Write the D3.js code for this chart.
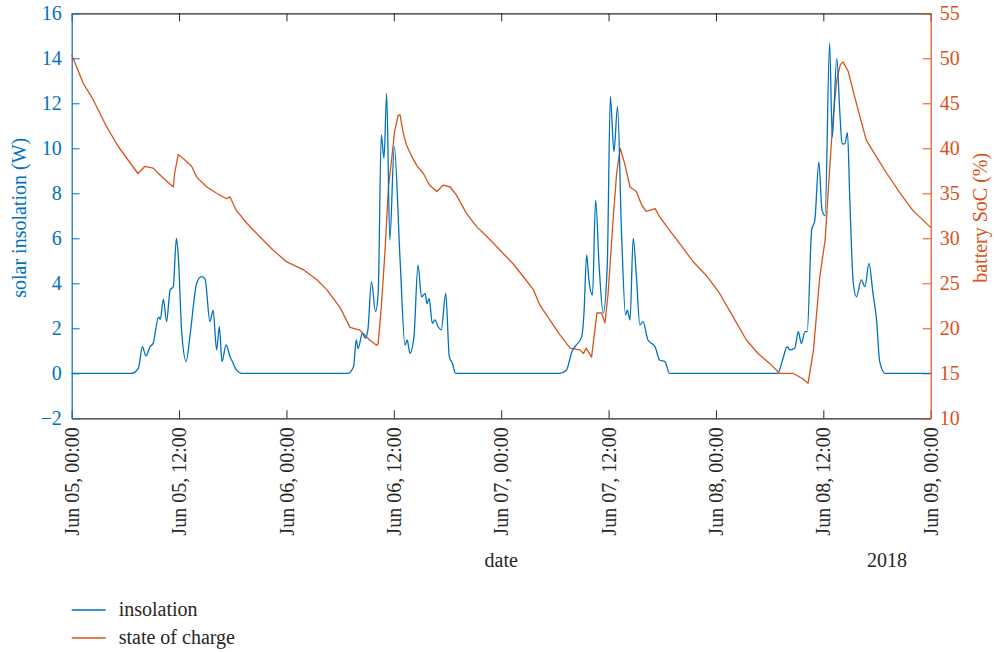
<!DOCTYPE html>
<html>
<head>
<meta charset="utf-8">
<script src="https://cdn.jsdelivr.net/npm/d3@7"></script>
<style>
    body { margin: 0; background: #fff; }
    svg { display: block; }
</style>
</head>
<body>
<svg id="chart" width="994" height="652"></svg>
<script>
// hours after Jun 05 2018, 00:00
const insolHours = [0, 6.7, 7.45, 7.9, 8.3, 8.75, 9.1, 9.7, 9.9, 10.25, 10.6, 11.0, 11.35, 11.7, 11.9, 12.3, 12.8, 13.2, 13.97, 14.5, 14.9, 15.45, 15.8, 16.2, 16.5, 16.8, 17.25, 17.7, 18.05, 18.4, 19.0,
    30.9, 31.5, 31.8, 32.0, 32.5, 32.8, 33.1, 33.5, 33.95, 34.25, 34.6, 34.9, 35.2, 35.55, 36.05, 36.7, 37.25, 37.5, 37.8, 38.25, 38.7, 39.1, 39.5, 39.7, 39.95, 40.3, 40.6, 40.95, 41.3, 41.8, 42.2, 42.55, 42.9,
    54.55, 55.3, 55.9, 56.4, 57.0, 57.25, 57.55, 57.8, 58.2, 58.55, 58.95, 59.4, 59.85, 60.2, 60.6, 61.0, 61.45, 61.9, 62.1, 62.4, 62.75, 63.1, 63.5, 63.85, 64.4, 65.2, 65.7, 66.3, 66.8,
    78.9, 79.5, 79.95, 80.3, 80.8, 81.2, 81.55, 81.95, 82.2, 82.7, 83.05, 83.5, 83.85, 84.2, 84.7, 85.0, 85.5, 85.85, 86.1, 86.4, 86.7, 86.95, 87.35, 87.7, 88.25, 88.65, 89.1, 89.55, 89.95, 90.3, 90.9, 96];
const insolation = [0, 0, 0.22, 1.18, 0.77, 1.18, 1.33, 2.5, 2.4, 3.3, 2.3, 3.7, 3.85, 6.0, 5.3, 1.8, 0.52, 1.6, 4.0, 4.3, 4.2, 2.3, 2.8, 1.04, 2.07, 0.52, 1.26, 0.74, 0.44, 0.15, 0,
    0, 0.3, 1.48, 1.1, 1.78, 1.56, 1.93, 4.07, 2.74, 3.55, 10.6, 9.55, 12.44, 5.92, 10.07, 5.04, 1.26, 1.48, 0.89, 1.63, 4.81, 3.4, 3.55, 3.1, 3.33, 2.22, 2.37, 2.07, 1.93, 3.55, 0.74, 0.44, 0,
    0, 0.15, 0.96, 1.26, 1.63, 2.67, 5.26, 4.15, 3.48, 7.7, 4.74, 2.67, 4.74, 12.3, 9.85, 11.85, 6.22, 2.59, 2.81, 2.37, 6.0, 4.37, 2.15, 2.3, 1.48, 1.18, 0.59, 0.52, 0,
    0, 0.67, 1.18, 1.04, 1.11, 1.85, 1.33, 1.85, 1.85, 6.37, 6.8, 9.4, 7.26, 7.0, 14.67, 10.5, 14.0, 11.55, 10.2, 10.2, 10.7, 7.85, 4.0, 3.4, 4.15, 3.85, 4.89, 3.55, 2.37, 0.52, 0, 0];

const socHours = [0, 1.3, 2.4, 3.9, 5.2, 6.3, 7.4, 8.2, 9.1, 9.9, 11.35, 11.5, 11.9, 12.65, 13.4, 13.97, 15.1, 16.2, 17.3, 17.7, 18.4, 19.55, 21.0, 22.5, 24.0, 25.9, 27.4, 28.5, 30.0, 31.1, 32.2, 33.3, 34.1, 34.25,
    34.6, 35.0, 35.4, 35.75, 36.1, 36.5, 36.7, 37.05, 37.4, 38.0, 38.55, 39.3, 40.0, 40.8, 41.5, 42.3, 43.0, 44.1, 45.25, 46.4, 47.85, 49.3, 50.5, 51.6, 52.3, 54.55, 55.7, 56.8, 57.2, 57.5, 58.1,
    58.7, 59.2, 59.6, 59.95, 60.5, 60.9, 61.3, 61.8, 62.4, 63.1, 63.7, 64.2, 65.2, 65.7, 66.8, 67.95, 69.45, 70.9, 72.4, 73.9, 75.4, 76.7, 78.0, 79.1, 80.6, 81.7, 82.3,
    82.9, 83.6, 84.2, 84.7, 85.1, 85.5, 85.9, 86.2, 86.8, 87.3, 88.1, 88.8, 89.9, 91.1, 92.6, 94.0, 95.9, 96];
const soc = [50.4, 47.2, 45.4, 42.4, 40.2, 38.7, 37.2, 38.0, 37.8, 37.0, 35.7, 37.2, 39.3, 38.7, 38.0, 36.8, 35.7, 35.0, 34.4, 34.6, 33.1, 31.7, 30.2, 28.7, 27.4, 26.5, 25.4, 24.3, 22.3, 20.1, 19.8, 18.7, 18.1, 18.3,
    22.4, 28.3, 35.7, 38.7, 42.0, 43.7, 43.7, 41.7, 40.4, 39.1, 38.1, 37.2, 35.9, 35.2, 35.9, 35.7, 34.8, 32.8, 31.3, 30.2, 28.7, 27.2, 25.7, 24.3, 22.6, 19.3, 17.8, 17.6, 17.2, 17.8, 16.8,
    21.7, 21.7, 20.6, 23.9, 32.0, 37.2, 40.0, 38.3, 35.7, 35.2, 33.7, 33.0, 33.3, 32.4, 30.9, 29.4, 27.4, 25.9, 23.9, 21.3, 18.7, 17.2, 16.1, 15.0, 15.0, 14.4, 13.9,
    17.6, 25.7, 29.8, 37.6, 43.5, 47.6, 49.3, 49.6, 48.5, 46.5, 43.5, 40.9, 39.1, 37.2, 35.0, 33.1, 31.3, 31.2];

const leftTicks = [-2, 0, 2, 4, 6, 8, 10, 12, 14, 16];
const rightTicks = [10, 15, 20, 25, 30, 35, 40, 45, 50, 55];
const seriesNames = ["insolation", "state of charge"];

const startDate = new Date(2018, 5, 5, 0, 0);
const endDate = new Date(2018, 5, 9, 0, 0);
const blue = "#0072BD";
const orange = "#D95319";
const ink = "#262626";
const serifFont = "'Liberation Serif', 'Times New Roman', 'DejaVu Serif', serif";

function toDate(h) {
    return new Date(startDate.getTime() + h * 3600 * 1000);
}

function drawChart() {
    const svg = d3.select("#chart").attr("font-family", serifFont);
    const margin = {top: 13.3, right: 63.3, bottom: 233.7, left: 71.7};
    const width = +svg.attr("width") - margin.left - margin.right;
    const height = +svg.attr("height") - margin.top - margin.bottom;
    const g = svg.append("g").attr("transform", "translate(" + margin.left + "," + margin.top + ")");

    const x = d3.scaleTime().domain([startDate, endDate]).range([0, width]);
    const yL = d3.scaleLinear().domain([-2, 16]).range([height, 0]);
    const yR = d3.scaleLinear().domain([10, 55]).range([height, 0]);

    const xTicks = d3.timeHour.every(12).range(startDate, new Date(endDate.getTime() + 1));

    // top box edge
    g.append("g")
        .call(d3.axisTop(x).tickValues(xTicks).tickSize(-8).tickSizeOuter(0).tickFormat(""))
        .call(a => a.selectAll("path, line").attr("stroke", ink));

    // bottom axis with rotated labels
    const xAxis = g.append("g")
        .attr("transform", "translate(0," + height + ")")
        .call(d3.axisBottom(x).tickValues(xTicks).tickSize(-8).tickSizeOuter(0).tickFormat(d3.timeFormat("%b %d, %H:%M")));
    xAxis.selectAll("path, line").attr("stroke", ink);
    xAxis.selectAll("text")
        .attr("fill", ink)
        .attr("transform", "rotate(-90)")
        .attr("text-anchor", "end")
        .attr("x", -9)
        .attr("y", 0)
        .attr("dy", "0.33em");

    const yAxisL = g.append("g")
        .call(d3.axisLeft(yL).tickValues(leftTicks).tickSize(-8).tickSizeOuter(0).tickPadding(10));
    yAxisL.selectAll("path, line").attr("stroke", blue);
    yAxisL.selectAll("text").attr("fill", blue);

    const yAxisR = g.append("g")
        .attr("transform", "translate(" + width + ",0)")
        .call(d3.axisRight(yR).tickValues(rightTicks).tickSize(-8).tickSizeOuter(0).tickPadding(9));
    yAxisR.selectAll("path, line").attr("stroke", orange);
    yAxisR.selectAll("text").attr("fill", orange);

    g.selectAll(".tick text").attr("font-size", 20);
    g.selectAll(":scope > g").attr("font-family", serifFont).attr("font-size", 20);
    g.selectAll(".domain").attr("stroke-width", 1.2);

    const insolData = insolHours.map((h, i) => ({date: toDate(h), value: insolation[i]}));
    const socData = socHours.map((h, i) => ({date: toDate(h), value: soc[i]}));

    const insolLine = d3.line()
        .x(d => x(d.date))
        .y(d => yL(d.value))
        .curve(d3.curveMonotoneX);
    const socLine = d3.line()
        .x(d => x(d.date))
        .y(d => yR(d.value));

    g.append("path")
        .datum(socData)
        .attr("fill", "none")
        .attr("stroke", orange)
        .attr("stroke-width", 1.3)
        .attr("stroke-linejoin", "round")
        .attr("d", socLine);

    g.append("path")
        .datum(insolData)
        .attr("fill", "none")
        .attr("stroke", blue)
        .attr("stroke-width", 1.3)
        .attr("stroke-linejoin", "round")
        .attr("d", insolLine);

    // axis titles
    svg.append("text")
        .attr("transform", "translate(26," + (margin.top + height / 2 + 2) + ") rotate(-90)")
        .attr("text-anchor", "middle")
        .attr("fill", blue)
        .attr("font-size", 20)
        .text("solar insolation (W)");
    svg.append("text")
        .attr("transform", "translate(987," + (margin.top + height / 2 + 2) + ") rotate(-90)")
        .attr("text-anchor", "middle")
        .attr("fill", orange)
        .attr("font-size", 20)
        .text("battery SoC (%)");
    svg.append("text")
        .attr("x", margin.left + width / 2)
        .attr("y", 567)
        .attr("text-anchor", "middle")
        .attr("fill", ink)
        .attr("font-size", 20)
        .text("date");
    svg.append("text")
        .attr("x", 907)
        .attr("y", 567)
        .attr("text-anchor", "end")
        .attr("fill", ink)
        .attr("font-size", 20)
        .text("2018");

    // legend
    const legend = svg.append("g").attr("transform", "translate(71.7,610)");
    const legendColors = [blue, orange];
    seriesNames.forEach(function (name, i) {
        const row = legend.append("g").attr("transform", "translate(0," + i * 28 + ")");
        row.append("line")
            .attr("x1", 0).attr("x2", 34)
            .attr("stroke", legendColors[i])
            .attr("stroke-width", 1.3);
        row.append("text")
            .attr("x", 47)
            .attr("y", 6)
            .attr("fill", ink)
            .attr("font-size", 20)
            .text(name);
    });
}

drawChart();
</script>
</body>
</html>
